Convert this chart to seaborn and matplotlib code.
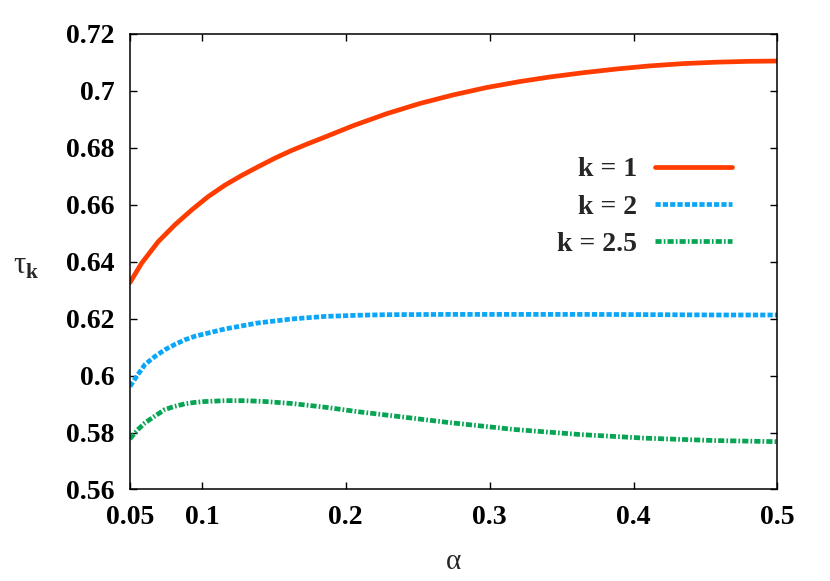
"""tau_k versus alpha for three values of k"""
import numpy as np
import pandas as pd
import matplotlib
matplotlib.use('Agg')
import matplotlib.pyplot as plt
import seaborn as sns

# values
alpha_k1 = [0.05, 0.0581, 0.0697, 0.0813, 0.0929, 0.1044, 0.116, 0.1276, 0.1392,
            0.1508, 0.1624, 0.1739, 0.1855, 0.2052, 0.2284, 0.2516, 0.2747, 0.2979,
            0.3211, 0.3419, 0.3651, 0.3882, 0.4114, 0.4346, 0.4577, 0.4809, 0.5]
tau_k1 = [0.6327, 0.6395, 0.6471, 0.6530, 0.6582, 0.6629, 0.6669, 0.6703, 0.6734,
          0.6764, 0.6791, 0.6815, 0.6838, 0.6878, 0.6920, 0.6956, 0.6986, 0.7012,
          0.7033, 0.7049, 0.7064, 0.7077, 0.7088, 0.7096, 0.7101, 0.7104, 0.7105]

alpha_k2 = [0.05, 0.055, 0.0604, 0.067, 0.0743, 0.081, 0.0883, 0.095, 0.1022,
            0.1161, 0.139, 0.1625, 0.1856, 0.2086, 0.2274, 0.27, 0.32, 0.37, 0.42,
            0.46, 0.5]
tau_k2 = [0.5962, 0.600, 0.6039, 0.6066, 0.6091, 0.6109, 0.6126, 0.6138, 0.6147,
          0.6164, 0.6185, 0.6199, 0.6208, 0.6212, 0.6214, 0.6215, 0.6215, 0.6215,
          0.6214, 0.6213, 0.6213]

alpha_k25 = [0.05, 0.055, 0.0604, 0.067, 0.0743, 0.081, 0.0883, 0.095, 0.1022,
             0.1161, 0.13, 0.1439, 0.1625, 0.1856, 0.2088, 0.2274, 0.2702, 0.3166,
             0.363, 0.4093, 0.4557, 0.5]
tau_k25 = [0.5778, 0.5808, 0.5834, 0.5857, 0.5881, 0.5892, 0.5901, 0.5906, 0.5909,
           0.5912, 0.5912, 0.5909, 0.5902, 0.5889, 0.5873, 0.5862, 0.5836, 0.5811,
           0.5793, 0.5780, 0.5772, 0.5768]

x_ticks = [0.05, 0.1, 0.2, 0.3, 0.4, 0.5]
x_tick_labels = ['0.05', '0.1', '0.2', '0.3', '0.4', '0.5']
y_ticks = [0.56, 0.58, 0.6, 0.62, 0.64, 0.66, 0.68, 0.7, 0.72]
y_tick_labels = ['0.56', '0.58', '0.6', '0.62', '0.64', '0.66', '0.68', '0.7', '0.72']

sns.set_theme(style='ticks')
plt.rcParams['font.family'] = ['Liberation Serif', 'DejaVu Serif']
plt.rcParams['mathtext.fontset'] = 'custom'
plt.rcParams['mathtext.rm'] = 'Liberation Serif'
plt.rcParams['mathtext.bf'] = 'Liberation Serif:bold'

fig = plt.figure(figsize=(8.3, 5.81), dpi=100)
ax = fig.add_axes([0.1566, 0.1575, 0.78, 0.784])

series = [
    (alpha_k1, tau_k1, 'k = 1', '#ff3c00', '-'),
    (alpha_k2, tau_k2, 'k = 2', '#0aa6f8', (0, (1.1, 0.45))),
    (alpha_k25, tau_k25, 'k = 2.5', '#05a553', (0, (1.3, 0.45, 0.35, 0.45))),
]
for xs, ys, label, color, ls in series:
    df = pd.DataFrame({'alpha': xs, 'tau': ys})
    sns.lineplot(data=df, x='alpha', y='tau', ax=ax, color=color, lw=3.4,
                 linestyle=ls, label=label)

ax.set_xlim(0.05, 0.5)
ax.set_ylim(0.56, 0.72)
ax.set_xticks(x_ticks)
ax.set_xticklabels(x_tick_labels)
ax.set_yticks(y_ticks)
ax.set_yticklabels(y_tick_labels)
ax.tick_params(direction='in', length=5, width=1, top=True, right=True,
               labelsize=20, pad=11, colors='black')
for lab in ax.get_xticklabels() + ax.get_yticklabels():
    lab.set_fontweight('bold')
for sp in ax.spines.values():
    sp.set_linewidth(1.1)
    sp.set_color('black')

ax.set_xlabel('α', fontsize=21, labelpad=14)
ax.set_ylabel(r'$\mathrm{τ}_{\mathbf{k}}$', fontsize=22, rotation=0, labelpad=22,
              va='center')
ax.yaxis.set_label_coords(-0.16, 0.49)

leg = ax.legend(loc='upper right', bbox_to_anchor=(0.9297, 0.730), frameon=False,
                markerfirst=False, handlelength=2.75, handletextpad=0.65,
                labelspacing=0.43, borderpad=0, borderaxespad=0,
                prop={'size': 20, 'weight': 'bold'})

plt.savefig('out.png', dpi=100)
plt.close()
